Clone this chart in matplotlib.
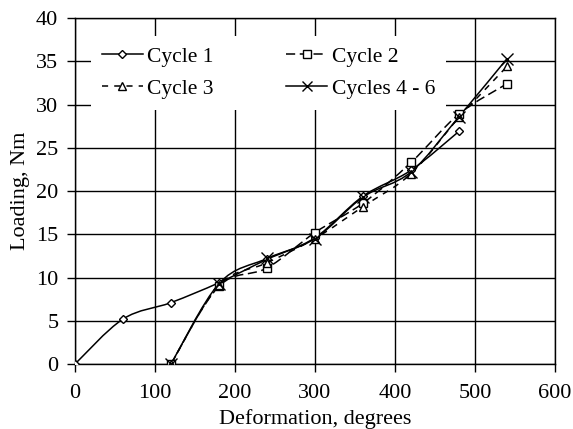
import numpy as np
import matplotlib.pyplot as plt
from matplotlib.path import Path
from matplotlib.patches import PathPatch
from matplotlib.lines import Line2D

plt.rcParams['font.family'] = ['Liberation Serif', 'DejaVu Serif']
plt.rcParams['font.size'] = 16

# deformation (degrees) and loading (Nm)
x_c1 = [0, 60, 120, 180, 240, 300, 360, 420, 480]
y_c1 = [0, 5.2, 7.1, 9.4, 12.1, 14.6, 19.4, 22.4, 26.9]

x_cyc = [120, 180, 240, 300, 360, 420, 480, 540]
y_c2 = [0, 9.0, 11.1, 15.2, 18.6, 23.3, 28.9, 32.4]
y_c3 = [0, 9.1, 11.7, 14.5, 18.2, 22.0, 28.5, 34.4]
y_c46 = [0, 9.3, 12.2, 14.5, 19.3, 22.2, 28.6, 35.3]

labels = ["Cycle 1", "Cycle 2", "Cycle 3", "Cycles 4 - 6"]


def smooth_path(xs, ys):
    # excel style smoothed line: bezier segments through the points
    p = np.column_stack([xs, ys]).astype(float)
    n = len(p)
    verts = [p[0]]
    codes = [Path.MOVETO]
    for i in range(n - 1):
        p0 = p[i - 1] if i > 0 else p[i]
        p1 = p[i]
        p2 = p[i + 1]
        p3 = p[i + 2] if i + 2 < n else p[i + 1]
        c1 = p1 + (p2 - p0) / 6.0
        c2 = p2 - (p3 - p1) / 6.0
        verts += [c1, c2, p2]
        codes += [Path.CURVE4] * 3
    return Path(verts, codes)


fig = plt.figure(figsize=(5.73, 4.29), dpi=100)
ax = fig.add_axes([0.1309, 0.1515, 0.8377, 0.8065])

series = [
    (x_c1, y_c1, 'D', 4.5, '-'),
    (x_cyc, y_c2, 's', 6, (0, (6, 3))),
    (x_cyc, y_c3, '^', 6, (0, (4, 4))),
    (x_cyc, y_c46, 'x', 8, '-'),
]

handles = []
for (xs, ys, mk, ms, ls), lab in zip(series, labels):
    patch = PathPatch(smooth_path(xs, ys), fill=False, edgecolor='black',
                      linewidth=1.1, linestyle=ls, zorder=3)
    ax.add_patch(patch)
    ax.plot(xs, ys, linestyle='none', marker=mk, markersize=ms,
            markerfacecolor='white', markeredgecolor='black', markeredgewidth=1.0, zorder=4)
    handles.append(Line2D([], [], color='black', linewidth=1.1, linestyle=ls, marker=mk,
                          markersize=ms * 0.85, markerfacecolor='white',
                          markeredgecolor='black', label=lab))

ax.set_xlim(0, 600)
ax.set_ylim(0, 40)
ax.set_xticks(range(0, 601, 100))
ax.set_yticks(range(0, 41, 5))
ax.grid(True, color='black', linewidth=1.0)
ax.set_axisbelow(True)
for s in ax.spines.values():
    s.set_linewidth(1.0)
ax.tick_params(direction='out', length=6, width=1.0)
ax.tick_params(axis='x', pad=8.5)
ax.tick_params(axis='y', pad=6)

ax.set_xlabel("Deformation, degrees", labelpad=4.5)
ax.set_ylabel("Loading, Nm", labelpad=4.5)

# column-wise order so rows read Cycle 1 / Cycle 2, Cycle 3 / Cycles 4 - 6
order = [0, 2, 1, 3]
leg = ax.legend(handles=[handles[i] for i in order], ncol=2, loc='upper left',
                bbox_to_anchor=(0.033, 0.749, 0.740, 0.199), mode='expand',
                borderaxespad=0, frameon=True, fancybox=False, framealpha=1,
                edgecolor='none', facecolor='white', handlelength=1.9,
                handletextpad=0.23, labelspacing=0.55, borderpad=0.5,
                prop={'size': 15.5})
leg.set_zorder(5)

fig.savefig("out.png", dpi=100)
